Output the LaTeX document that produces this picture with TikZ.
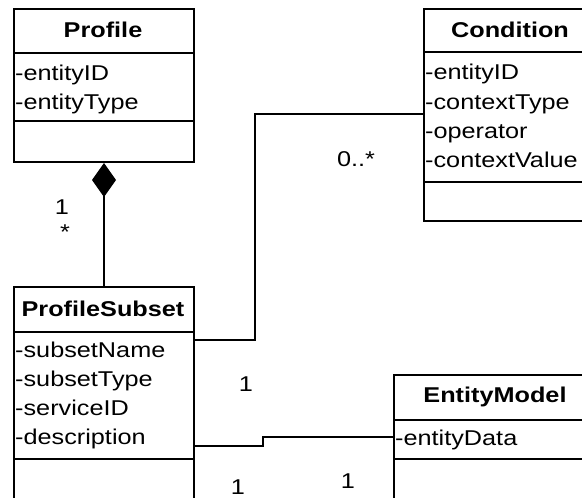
\documentclass[tikz,border=0pt]{standalone}
\usepackage{fontspec}
\setmainfont{Liberation Sans}[FakeStretch=1.18]
\usetikzlibrary{arrows.meta}

\tikzset{
  classbox/.style={draw=black, line width=2pt, fill=white, rectangle, inner sep=0pt, anchor=north west},
  sepline/.style={draw=black, line width=2pt},
  title/.style={font=\fontsize{21.4}{25}\selectfont\bfseries, inner sep=0pt, anchor=base},
  attr/.style={font=\fontsize{21.4}{25}\selectfont, inner sep=0pt, anchor=base west},
  mult/.style={font=\fontsize{21.4}{25}\selectfont, inner sep=0pt},
  assoc/.style={draw=black, line width=1.3pt},
}

\begin{document}
\begin{tikzpicture}[x=1pt, y=-1pt]
  \useasboundingbox (0,0) rectangle (582,498);
  \clip (0,0) rectangle (582,498);
  \fill[white] (0,0) rectangle (582,498);

  % Profile
  \node[classbox, minimum width=180pt, minimum height=153pt] (profile) at (13,8) {};
  \draw[sepline] (profile.west |- 0,53) -- (profile.east |- 0,53);
  \draw[sepline] (profile.west |- 0,121) -- (profile.east |- 0,121);
  \node[title] (profileT) at (103,37.5) {Profile};
  \node[attr] (profileA1) at (15,80) {-entityID};
  \node[attr] (profileA2) at (15,109) {-entityType};

  % Condition
  \node[classbox, minimum width=174pt, minimum height=212pt] (condition) at (423,8) {};
  \draw[sepline] (condition.west |- 0,52) -- (condition.east |- 0,52);
  \draw[sepline] (condition.west |- 0,182) -- (condition.east |- 0,182);
  \node[title] (conditionT) at (510,37.5) {Condition};
  \node[attr] (conditionA1) at (425,79) {-entityID};
  \node[attr] (conditionA2) at (425,109) {-contextType};
  \node[attr] (conditionA3) at (425,138) {-operator};
  \node[attr] (conditionA4) at (425,167) {-contextValue};

  % ProfileSubset
  \node[classbox, minimum width=180pt, minimum height=234pt] (subset) at (13,286) {};
  \draw[sepline] (subset.west |- 0,332) -- (subset.east |- 0,332);
  \draw[sepline] (subset.west |- 0,459) -- (subset.east |- 0,459);
  \node[title] (subsetT) at (103,316) {ProfileSubset};
  \node[attr] (subsetA1) at (15,357) {-subsetName};
  \node[attr] (subsetA2) at (15,386) {-subsetType};
  \node[attr] (subsetA3) at (15,415) {-serviceID};
  \node[attr] (subsetA4) at (15,444) {-description};

  % EntityModel
  \node[classbox, minimum width=202pt, minimum height=146pt] (entity) at (393,374) {};
  \draw[sepline] (entity.west |- 0,420) -- (entity.east |- 0,420);
  \draw[sepline] (entity.west |- 0,459) -- (entity.east |- 0,459);
  \node[title] (entityT) at (495,402.7) {EntityModel};
  \node[attr] (entityA1) at (395,445) {-entityData};

  % Composition Profile <>-- ProfileSubset
  \draw[assoc, {Diamond[length=34pt, width=24pt, fill=black]}-] (profile.south) -- (subset.north);
  \node[mult] (m1) at (62,207) {1};
  \node[mult] (m2) at (65,232) {*};

  % Association ProfileSubset -- Condition
  \coordinate (bendC) at (255,114);
  \draw[assoc] (subset.east |- 0,340) -| (bendC) -- (condition.west |- bendC);
  \node[mult] (m3) at (356,159) {0..*};
  \node[mult] (m4) at (246,384) {1};

  % Association ProfileSubset -- EntityModel
  \coordinate (stepE1) at (263,446);
  \coordinate (stepE2) at (263,437);
  \draw[assoc] (subset.east |- stepE1) -- (stepE1) -- (stepE2) -- (entity.west |- stepE2);
  \node[mult] (m5) at (238,487) {1};
  \node[mult] (m6) at (348,481) {1};
\end{tikzpicture}
\end{document}
